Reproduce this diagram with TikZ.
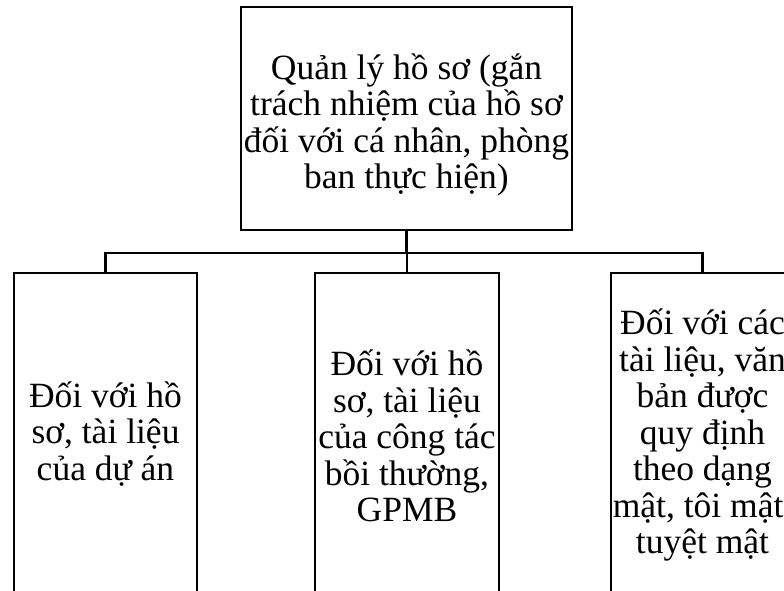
\documentclass[tikz,border=0pt]{standalone}
\usepackage{fontspec}
\setmainfont{Liberation Serif}
\begin{document}
\begin{tikzpicture}[x=1pt,y=-1pt,
  box/.style={draw=black, line width=2.5pt, fill=white, inner sep=0pt},
  txt/.style={font=\fontsize{35.5}{36.5}\selectfont, align=center, inner sep=0pt},
  conn/.style={draw=black, line width=2.5pt}]
\useasboundingbox (0,0) rectangle (784,591);
\clip (0,0) rectangle (784,591);
\fill[white] (0,0) rectangle (784,591);
% boxes
\node[box, minimum width=331pt, minimum height=223pt] (top) at (406.5,118.5) {};
\node[box, minimum width=183pt, minimum height=328pt] (left) at (105.5,437) {};
\node[box, minimum width=184pt, minimum height=328pt] (mid) at (407,437) {};
\node[box, minimum width=183pt, minimum height=328pt] (right) at (702.5,437) {};
% texts
\node[txt] (toptxt) at (406.5,125) {Quản lý hồ sơ (gắn\\trách nhiệm của hồ sơ\\đối với cá nhân, phòng\\ban thực hiện)};
\node[txt] (lefttxt) at (105.5,434) {Đối với hồ\\sơ, tài liệu\\của dự án};
\node[txt] (midtxt) at (407,436) {Đối với hồ\\sơ, tài liệu\\của công tác\\bồi thường,\\GPMB};
\node[txt] (righttxt) at (702.5,435) {Đối với các\\tài liệu, văn\\bản được\\quy định\\theo dạng\\mật, tôi mật,\\tuyệt mật};
% connectors
\coordinate (bus) at (406.5,253);
\draw[conn] (top.south) -- (bus);
\draw[conn] (bus) -| (left.north);
\draw[conn] (bus) -| (mid.north);
\draw[conn] (bus) -| (right.north);
\end{tikzpicture}
\end{document}
